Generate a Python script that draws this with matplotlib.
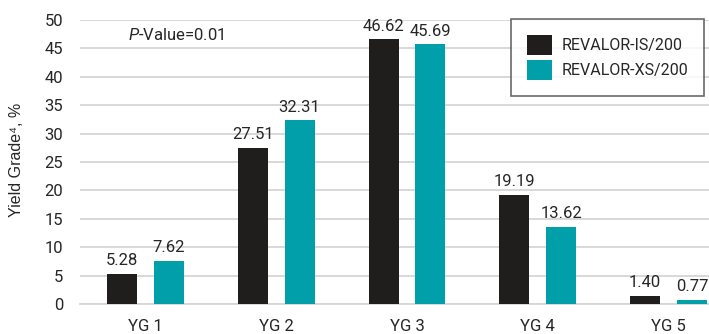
import numpy as np
import matplotlib.pyplot as plt

grades = ['YG 1', 'YG 2', 'YG 3', 'YG 4', 'YG 5']
is200 = [5.28, 27.51, 46.62, 19.19, 1.40]
xs200 = [7.62, 32.31, 45.69, 13.62, 0.77]
names = ['REVALOR-IS/200', 'REVALOR-XS/200']
colors = ['#1f1e1c', '#009fa9']

plt.rcParams['font.family'] = 'Roboto'
plt.rcParams['mathtext.fontset'] = 'custom'
plt.rcParams['mathtext.rm'] = 'Roboto'
plt.rcParams['mathtext.it'] = 'Roboto:italic'
txt = '#262626'

fig = plt.figure(figsize=(7.09, 3.34), dpi=100)
ax = fig.add_axes([80/709, 30/334, 654/709, 284/334])

x = np.arange(len(grades))
w = 0.229
off = 0.179
b1 = ax.bar(x - off, is200, w, color=colors[0], label=names[0], zorder=3)
b2 = ax.bar(x + off, xs200, w, color=colors[1], label=names[1], zorder=3)
for bars, vals in [(b1, is200), (b2, xs200)]:
    for b, v in zip(bars, vals):
        ax.annotate('%.2f' % v, (b.get_x() + b.get_width()/2, v), xytext=(0, 4),
                    textcoords='offset points', ha='center', va='bottom',
                    fontsize=12, color=txt)

ax.set_xlim(-0.5, 4.5)
ax.set_ylim(0, 50)
ax.set_yticks(np.arange(0, 51, 5))
ax.set_xticks(x)
ax.set_xticklabels(grades)
ax.tick_params(axis='y', length=0, pad=12, labelsize=12, labelcolor=txt)
ax.tick_params(axis='x', length=0, pad=11, labelsize=12, labelcolor=txt)
ax.yaxis.grid(True, color='#d6d6d6', linewidth=1.3, zorder=0)
for s in ax.spines.values():
    s.set_visible(False)
ax.spines['bottom'].set_visible(True)
ax.spines['bottom'].set_color('#d6d6d6')
ax.spines['bottom'].set_linewidth(1.3)

fig.text(17/709, 1 - 160/334, 'Yield Grade⁴, %', rotation=90, ha='center', va='center',
         fontsize=11.5, color=txt, family=['Liberation Sans', 'DejaVu Sans'])
fig.text(128/709, 1 - 35/334, r'$\mathit{P}$-Value=0.01', ha='left', va='center',
         fontsize=12, color=txt)

leg = ax.legend(loc='upper left', bbox_to_anchor=(511/709, 1 - 19/334),
                bbox_transform=fig.transFigure, fontsize=11.5, frameon=True,
                fancybox=False, handlelength=1.55, handleheight=1.55,
                handletextpad=0.6, labelspacing=0.3, borderpad=1.0,
                borderaxespad=0)
leg.get_frame().set_edgecolor('#444444')
leg.get_frame().set_linewidth(1.2)
for t in leg.get_texts():
    t.set_color(txt)

plt.savefig('out.png', dpi=100)
